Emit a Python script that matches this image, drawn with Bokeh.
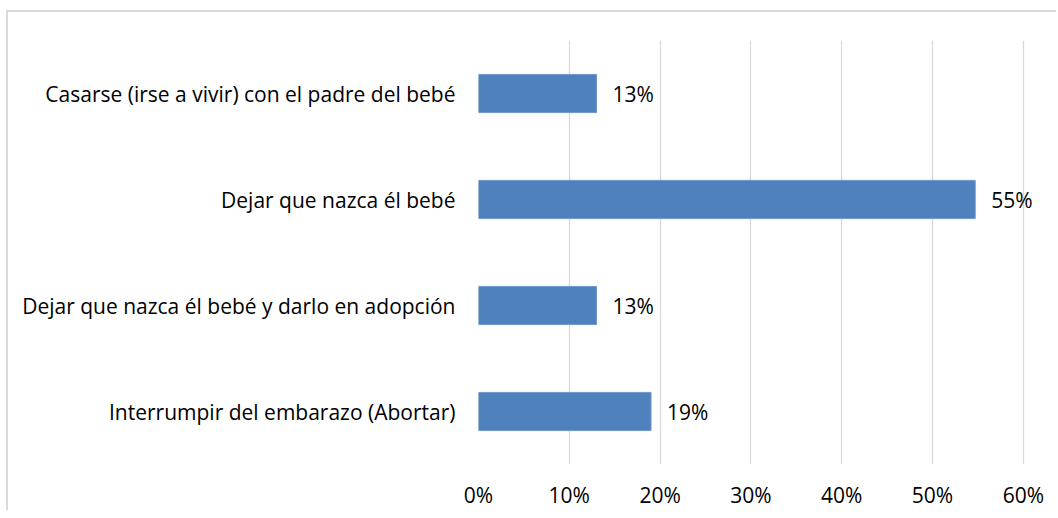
from bokeh.plotting import figure
from bokeh.models import FactorRange, Range1d, ColumnDataSource, FixedTicker, CustomJSTickFormatter
from bokeh.core.properties import value
from bokeh.embed import file_html
from bokeh.resources import INLINE

categories = [
    "Casarse (irse a vivir) con el padre del bebé",
    "Dejar que nazca él bebé",
    "Dejar que nazca él bebé y darlo en adopción",
    "Interrumpir del embarazo (Abortar)",
]
values = [13.0, 54.7, 13.0, 19.0]
labels = ["13%", "55%", "13%", "19%"]
x_ticks = [0, 10, 20, 30, 40, 50, 60]

FONT = "Open Sans"
FS = "21px"

src = ColumnDataSource(dict(cat=categories, val=values, lab=labels))

p = figure(
    width=1050, height=500,
    y_range=FactorRange(factors=list(reversed(categories)), range_padding=0),
    x_range=Range1d(0, 62),
    output_backend="svg", toolbar_location=None,
    min_border_left=470, min_border_right=17, min_border_top=28, min_border_bottom=48,
)
p.margin = (10, 0, 0, 6)
p.styles = {"border-top": "2px solid #d9d9d9", "border-left": "2px solid #d9d9d9"}
p.outline_line_color = None

p.hbar(y="cat", right="val", left=0, height=0.36, source=src,
       fill_color="#4f81bd", line_color="#6f97cc", line_width=1)

p.text(x="val", y="cat", text="lab", source=src, x_offset=16,
       text_baseline="middle", text_align="left",
       text_font=value(FONT), text_font_size=FS, text_color="#000000")

p.xaxis.ticker = FixedTicker(ticks=x_ticks)
p.xaxis.formatter = CustomJSTickFormatter(code="return tick + '%';")
for ax in (p.xaxis, p.yaxis):
    ax.axis_line_color = None
    ax.major_tick_line_color = None
    ax.minor_tick_line_color = None
    ax.major_tick_out = 0
    ax.major_tick_in = 0
    ax.major_label_text_font = FONT
    ax.major_label_text_font_size = FS
    ax.major_label_text_color = "#000000"
p.xaxis.major_label_standoff = 16
p.yaxis.major_label_standoff = 23

p.xgrid.grid_line_color = "#d9d9d9"
p.xgrid.grid_line_width = 1.3
p.xgrid.ticker = FixedTicker(ticks=x_ticks)
p.ygrid.grid_line_color = None

open("out.html", "w").write(file_html(p, INLINE))
